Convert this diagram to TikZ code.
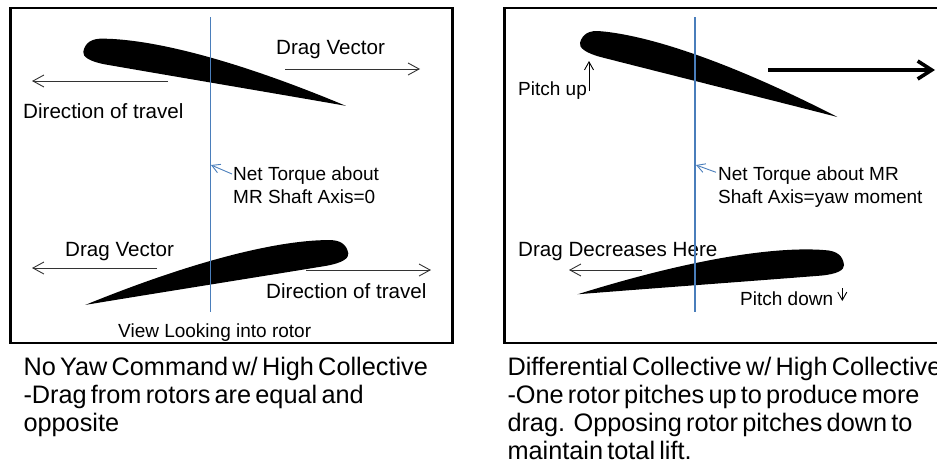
\documentclass[tikz,border=0pt]{standalone}
\usepackage{fontspec}
\setmainfont{Liberation Sans}
\newfontfamily\capfont[WordSpace=0.6]{Liberation Sans}
\usetikzlibrary{arrows.meta}
\definecolor{axisblue}{RGB}{74,126,187}
\tikzset{
  pics/blade/.style={code={
    \fill (0,0) .. controls (0,-9) and (5,-15) .. (18,-17) .. controls (60,-25) and (140,-25) .. (268,0)
      .. controls (200,2) and (90,6) .. (25,8) .. controls (8,8.5) and (0,5) .. (0,0) -- cycle;}},
  lbl/.style={inner sep=0pt, anchor=base west, align=left, font=\fontsize{20.6}{23}\selectfont},
  lblsm/.style={lbl, font=\fontsize{19}{23}\selectfont},
  captext/.style={inner sep=0pt, anchor=base west, align=left, font=\capfont\fontsize{25.3}{28.3}\selectfont},
  drag/.style={black!80, line width=0.9pt, -{Straight Barb[length=11pt,width=12pt]}},
  bigdrag/.style={line width=3.6pt, -{Straight Barb[length=14pt,width=18pt]}},
  pitch/.style={line width=0.9pt, -{Straight Barb[length=8pt,width=9pt]}},
  torque/.style={axisblue, line width=0.9pt, -{Straight Barb[length=8pt,width=9pt]}},
  shaft/.style={axisblue, line width=1.3pt},
  frame/.style={line width=2.6pt}
}
\begin{document}
\begin{tikzpicture}[x=1pt,y=-1pt]
  \useasboundingbox (0,0) rectangle (937,466);
  \clip (0,0) rectangle (937,466);
  % equal collective (two-line labels sit on the baseline of their last line)
  \draw[frame] (10.5,8) rectangle (452.5,343);
  \pic[rotate=-11.65] at (83.3,51.7) {blade}; \pic[rotate=11.1,xscale=-1] at (348.3,253.3) {blade};
  \node[lbl] (dragA) at (276,54) {Drag Vector}; \draw[drag] (285,69) -- (420,69);
  \node[lbl] (travA) at (23,118) {Direction of travel}; \draw[drag] (168,81) -- (32,81);
  \node[lbl] (dragB) at (65,256) {Drag Vector}; \draw[drag] (157,268) -- (32,268);
  \node[lbl] (travB) at (266,298) {Direction of travel}; \draw[drag] (306,270) -- (431,270);
  \node[lblsm] (view) at (118,337) {View Looking into rotor};
  \node[lblsm] (torqA) at (233,203) {Net Torque about\\MR Shaft Axis=0}; \draw[torque] (232,174) -- (211,165);
  \draw[shaft] (210.5,17) -- (210.5,312);
  % differential collective
  \draw[frame] (504.3,8) rectangle (960,343);
  \pic[rotate=-16.1] at (580,42.7) {blade}; \pic[rotate=6.27,xscale=-1] at (844,265) {blade};
  \node[lblsm] (pup) at (518,95) {Pitch up}; \draw[pitch] (589,91) -- (589,61);
  \draw[bigdrag] (768,70) -- (935,70);
  \node[lblsm] (torqB) at (718,203) {Net Torque about MR\\Shaft Axis=yaw moment}; \draw[torque] (716,172.3) -- (696,165);
  \node[lbl] (dec) at (518,256) {Drag Decreases Here}; \draw[drag] (642,270) -- (569,270);
  \node[lblsm] (pdown) at (740,305) {Pitch down}; \draw[pitch] (842.3,288) -- (842.3,301);
  \draw[shaft] (695,17) -- (695,312);
  % captions
  \node[captext] (capL) at (23.3,431.6) {No Yaw Command w/ High Collective\\-Drag from rotors are equal and\\opposite};
  \node[captext] (capR) at (507.3,459.9) {Differential Collective w/ High Collective\\-One rotor pitches up to produce more\\drag.\ \ Opposing rotor pitches down to\\maintain total lift.};
\end{tikzpicture}
\end{document}
